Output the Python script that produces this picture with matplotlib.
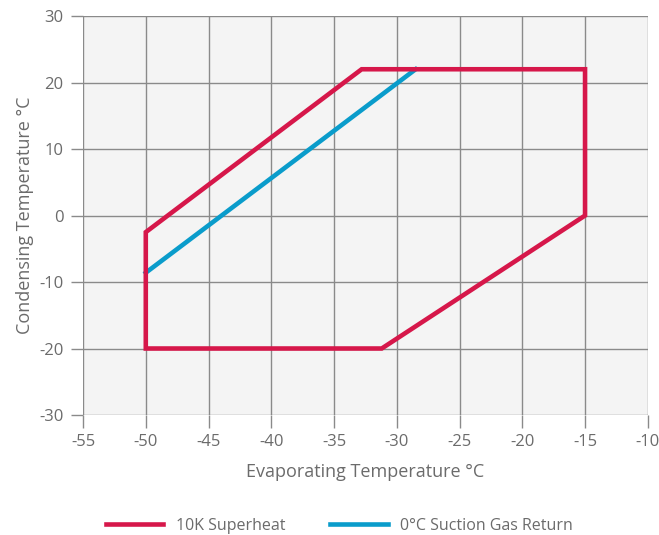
import numpy as np
import matplotlib.pyplot as plt
from matplotlib.lines import Line2D

plt.rcParams['font.family'] = ['Open Sans', 'DejaVu Sans']
plt.rcParams['axes.unicode_minus'] = False

# envelope data (evaporating / condensing temperature)
sh_x = [-50, -50, -32.8, -15, -15, -31.2]
sh_y = [-20, -2.5, 22, 22, 0, -20]
sg_x = [-50, -28.5]
sg_y = [-8.6, 22]

red = '#d6174a'
blue = '#0a9ccb'
grey = '#8a8a8a'
txt = '#6b6b6b'

fig = plt.figure(figsize=(6.59, 5.35), dpi=100)
ax = fig.add_axes([0.126, 0.2243, 0.857, 0.7457])
ax.set_facecolor('#f4f4f4')

# closed outline so every corner gets a clean join
ax.fill(sh_x, sh_y, fill=False, edgecolor=red, lw=3.3, joinstyle='miter', zorder=3)
ax.plot(sg_x, sg_y, color=blue, lw=3.3, zorder=2)

ax.set_xlim(-55, -10)
ax.set_ylim(-30, 30)
ax.set_xticks(np.arange(-55, -9, 5))
ax.set_yticks(np.arange(-30, 31, 10))
ax.grid(True, color=grey, lw=1.0)
ax.set_axisbelow(True)
for s in ax.spines.values():
    s.set_visible(False)
ax.tick_params(colors=grey, labelcolor=txt, labelsize=12, length=9, width=1, pad=5)

ax.set_xlabel('Evaporating Temperature °C', fontsize=13, color=txt, labelpad=9)
ax.set_ylabel('Condensing Temperature °C', fontsize=13, color=txt, labelpad=4)

handles = [Line2D([], [], color=red, lw=3.3), Line2D([], [], color=blue, lw=3.3)]
labels = ['10K Superheat', '0°C Suction Gas Return']
fig.legend(handles, labels, loc='lower center', bbox_to_anchor=(0.515, -0.025), ncol=2,
           frameon=False, fontsize=11.5, handlelength=3.6, columnspacing=2.8, labelcolor=txt)

fig.savefig('out.png', dpi=100)
